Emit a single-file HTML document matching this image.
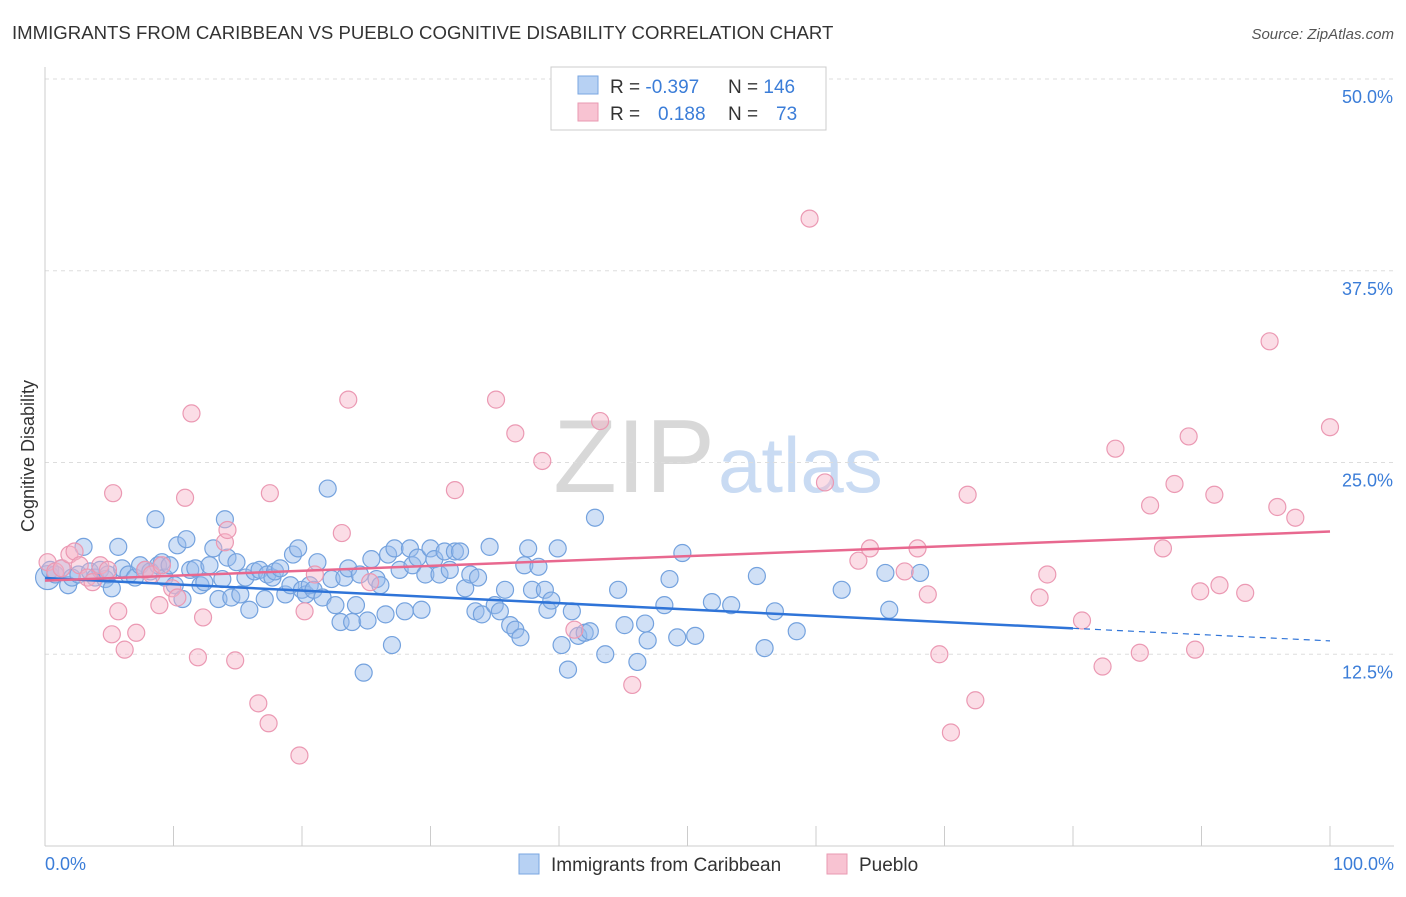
<!DOCTYPE html>
<html><head><meta charset="utf-8">
<style>
body{margin:0;background:#fff;font-family:"Liberation Sans",sans-serif;}
svg text{font-family:"Liberation Sans",sans-serif;}
</style></head>
<body>
<svg id="chart" width="1406" height="892" viewBox="0 0 1406 892">
<text x="12" y="39" font-size="18.6" fill="#333">IMMIGRANTS FROM CARIBBEAN VS PUEBLO COGNITIVE DISABILITY CORRELATION CHART</text>
<text x="1394" y="39" font-size="15" fill="#555" font-style="italic" text-anchor="end">Source: ZipAtlas.com</text>
<text x="715" y="492" font-size="104" fill="#d8d8d8" text-anchor="end" font-family="Liberation Serif">ZIP</text>
<text x="718" y="492" font-size="78" fill="#c9dbf3">atlas</text>
<g id="grid"></g>
<g id="axes"></g>
<g id="points"></g>
<g id="lines"></g>
<text transform="translate(34,456) rotate(-90)" font-size="18" fill="#333" text-anchor="middle">Cognitive Disability</text>
<text x="45" y="870" font-size="18" fill="#3b7dd8">0.0%</text>
<text x="1394" y="870" font-size="18" fill="#3b7dd8" text-anchor="end">100.0%</text>
<g>
<rect x="551" y="67" width="275" height="63" fill="#fff" stroke="#ccc"/>
<rect x="578" y="76" width="20" height="18" fill="#b7d1f3" stroke="#7aa6e0"/>
<rect x="578" y="103" width="20" height="18" fill="#f8c3d2" stroke="#e99ab2"/>
<text x="610" y="93" font-size="19" fill="#333">R = <tspan fill="#3b7dd8">-0.397</tspan></text>
<text x="728" y="93" font-size="19" fill="#333">N = <tspan fill="#3b7dd8">146</tspan></text>
<text x="610" y="120" font-size="19" fill="#333">R = <tspan fill="#3b7dd8" x="658">0.188</tspan></text>
<text x="728" y="120" font-size="19" fill="#333">N = <tspan fill="#3b7dd8" x="776">73</tspan></text>
</g>
<g>
<rect x="519" y="854" width="20" height="20" fill="#b7d1f3" stroke="#7aa6e0"/>
<text x="551" y="871" font-size="19" fill="#333">Immigrants from Caribbean</text>
<rect x="827" y="854" width="20" height="20" fill="#f8c3d2" stroke="#e99ab2"/>
<text x="859" y="871" font-size="19" fill="#333">Pueblo</text>
</g>
</svg>
<script>
const yTicks=[12.5,25,37.5,50];
const yTickLabels=["12.5%","25.0%","37.5%","50.0%"];
const xTicks=[0,10,20,30,40,50,60,70,80,90,100];
const blueX=[0.2,0.4,0.8,1.3,1.8,2.1,2.6,3.0,3.5,3.9,4.3,4.7,4.9,5.2,5.7,6.0,6.5,7.0,7.4,7.8,8.2,8.6,8.8,9.1,9.3,9.7,10.1,10.3,10.7,11.0,11.3,11.7,12.1,12.4,12.8,13.1,13.5,13.8,14.0,14.2,14.5,14.9,15.2,15.6,15.9,16.3,16.7,17.1,17.3,17.7,17.9,18.3,18.7,19.1,19.3,19.7,20.0,20.3,20.6,20.9,21.2,21.6,22.0,22.3,22.6,23.0,23.3,23.6,23.9,24.2,24.5,24.8,25.1,25.4,25.8,26.1,26.5,26.7,27.0,27.2,27.6,28.0,28.4,28.6,29.0,29.3,29.6,30.0,30.3,30.7,31.1,31.5,31.9,32.3,32.7,33.1,33.5,33.7,34.0,34.6,35.0,35.4,35.8,36.2,36.6,37.0,37.3,37.6,37.9,38.4,38.9,39.1,39.4,39.9,40.2,40.7,41.0,41.5,42.0,42.4,42.8,43.6,44.6,45.1,46.1,46.7,46.9,48.2,48.6,49.2,49.6,50.6,51.9,53.4,55.4,56.0,56.8,58.5,62.0,65.4,65.7,68.1];
const blueY=[17.5,18.0,17.7,18.1,17.0,17.5,17.7,19.5,17.9,17.5,18.0,17.4,17.7,16.8,19.5,18.1,17.7,17.5,18.3,18.0,17.9,21.3,18.3,18.5,17.5,18.3,17.0,19.6,16.1,20.0,18.0,18.1,17.0,17.2,18.3,19.4,16.1,17.4,21.3,18.8,16.2,18.5,16.4,17.5,15.4,17.9,18.0,16.1,17.7,17.5,17.9,18.1,16.4,17.0,19.0,19.4,16.7,16.4,17.0,16.7,18.5,16.2,23.3,17.4,15.7,14.6,17.5,18.1,14.6,15.7,17.7,11.3,14.7,18.7,17.4,17.0,15.1,19.0,13.1,19.4,18.0,15.3,19.4,18.3,18.8,15.4,17.7,19.4,18.7,17.7,19.2,18.0,19.2,19.2,16.8,17.7,15.3,17.5,15.1,19.5,15.7,15.3,16.7,14.4,14.1,13.6,18.3,19.4,16.7,18.2,16.7,15.4,16.0,19.4,13.1,11.5,15.3,13.7,13.9,14.0,21.4,12.5,16.7,14.4,12.0,14.5,13.4,15.7,17.4,13.6,19.1,13.7,15.9,15.7,17.6,12.9,15.3,14.0,16.7,17.8,15.4,17.8];
const pinkX=[0.2,0.8,1.3,1.9,2.3,2.7,3.3,3.7,4.3,4.9,5.3,5.7,5.2,6.2,7.1,7.8,8.3,8.9,9.1,9.9,10.3,10.9,11.4,11.9,12.3,14.0,14.2,14.8,16.6,17.4,17.5,19.8,20.2,21.0,23.1,23.6,25.3,31.9,35.1,36.6,38.7,41.2,43.2,45.7,59.5,60.7,63.3,64.2,66.9,67.9,68.7,69.6,70.5,71.8,72.4,77.4,78.0,80.7,82.3,83.3,85.2,86.0,87.0,87.9,89.0,89.5,89.9,91.0,91.4,93.4,95.3,95.9,97.3,100];
const pinkY=[18.5,17.9,18.1,19.0,19.2,18.3,17.5,17.2,18.3,18.0,23.0,15.3,13.8,12.8,13.9,18.0,17.7,15.7,18.3,16.8,16.2,22.7,28.2,12.3,14.9,19.8,20.6,12.1,9.3,8.0,23.0,5.9,15.3,17.7,20.4,29.1,17.2,23.2,29.1,26.9,25.1,14.1,27.7,10.5,40.9,23.7,18.6,19.4,17.9,19.4,16.4,12.5,7.4,22.9,9.5,16.2,17.7,14.7,11.7,25.9,12.6,22.2,19.4,23.6,26.7,12.8,16.6,22.9,17.0,16.5,32.9,22.1,21.4,27.3];
const blueTrend=[17.47,-0.041];
const pinkTrend=[17.3,0.032];
const NS="http://www.w3.org/2000/svg";
const X0=45,X1=1330,YB=846,YT=79;
function sx(v){return X0+(X1-X0)*v/100;}
function sy(v){return YB-(YB-YT)*v/50;}
function mk(tag,attrs,parent){const e=document.createElementNS(NS,tag);for(const k in attrs)e.setAttribute(k,attrs[k]);parent.appendChild(e);return e;}
const grid=document.getElementById('grid'),axes=document.getElementById('axes'),pts=document.getElementById('points'),lines=document.getElementById('lines');
yTicks.forEach((t,i)=>{
 const l=mk('line',{x1:X0,x2:1394,y1:sy(t),y2:sy(t),stroke:'#ddd','stroke-dasharray':'4,4'},grid);
 
 
 const tx=mk('text',{x:1393,y:sy(t)+24,'font-size':18,fill:'#3b7dd8','text-anchor':'end'},grid);
 tx.textContent=yTickLabels[i];
 
 
});
const ya=mk('line',{x1:X0,x2:X0,y1:67,y2:YB,stroke:'#ccc'},axes);


const xa=mk('line',{x1:X0,x2:1394,y1:YB,y2:YB,stroke:'#ccc'},axes);


xTicks.forEach(t=>{
 const tk=mk('line',{x1:sx(t),x2:sx(t),y1:826,y2:YB,stroke:'#ccc'},axes);
 
 
});
blueX.forEach((x,i)=>{
 const c=mk('circle',{cx:sx(x),cy:sy(blueY[i]),r:i===0?12:8.5,fill:'rgba(150,187,236,0.45)',stroke:'#74a2de','stroke-width':1.2},pts);
 
 
});
pinkX.forEach((x,i)=>{
 const c=mk('circle',{cx:sx(x),cy:sy(pinkY[i]),r:8.5,fill:'rgba(246,180,200,0.45)',stroke:'#eb99b3','stroke-width':1.2},pts);
 
 
});
const bl=mk('line',{x1:sx(0),y1:sy(blueTrend[0]),x2:sx(80),y2:sy(blueTrend[0]+80*blueTrend[1]),stroke:'#2f74d8','stroke-width':2.5},lines);


const bd=mk('line',{x1:sx(80),y1:sy(blueTrend[0]+80*blueTrend[1]),x2:sx(100),y2:sy(blueTrend[0]+100*blueTrend[1]),stroke:'#2f74d8','stroke-width':1.2,'stroke-dasharray':'6,5'},lines);


const pl=mk('line',{x1:sx(0),y1:sy(pinkTrend[0]),x2:sx(100),y2:sy(pinkTrend[0]+100*pinkTrend[1]),stroke:'#e8688f','stroke-width':2.5},lines);


</script>
</body></html>
